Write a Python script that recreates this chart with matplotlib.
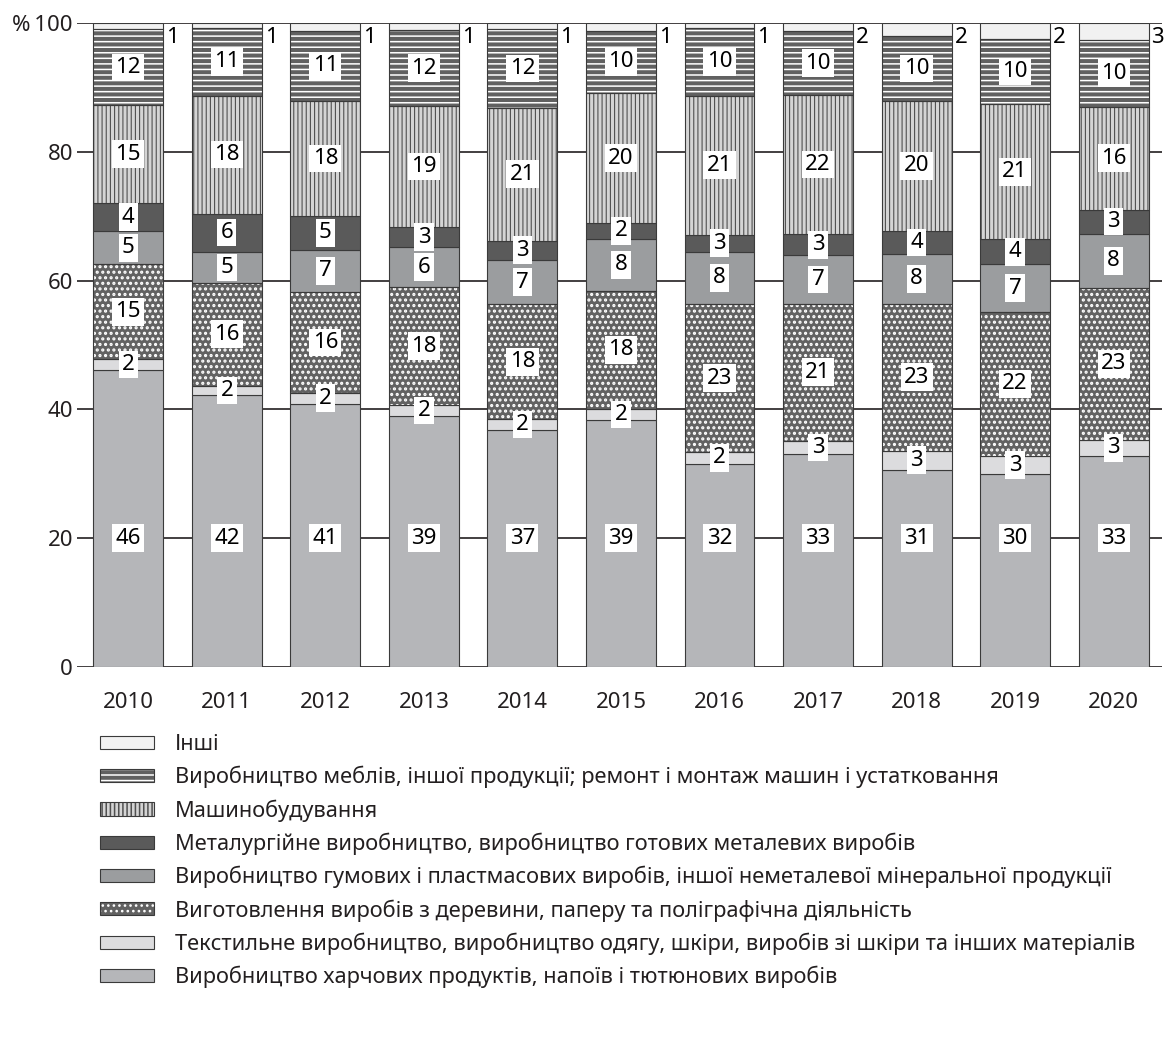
import matplotlib
matplotlib.use("Agg")
import matplotlib.pyplot as plt
from matplotlib.legend_handler import HandlerTuple

plt.rcParams['font.family'] = ['Noto Sans', 'DejaVu Sans']
plt.rcParams['hatch.linewidth'] = 1.0

FS = 16
LEGENDSIZE = 15.7

YEARS = ["2010", "2011", "2012", "2013", "2014", "2015",
         "2016", "2017", "2018", "2019", "2020"]

# shares, % (bottom to top)
food = [46.1, 42.2, 40.9, 39.0, 36.8, 38.3, 31.5, 33.0, 30.6, 29.9, 32.7]
textile = [1.7, 1.5, 1.7, 1.6, 1.7, 1.8, 1.9, 2.1, 3.0, 2.9, 2.6]
wood = [14.7, 15.9, 15.6, 18.4, 17.8, 18.3, 22.9, 21.3, 22.8, 22.3, 23.5]
rubber = [5.2, 4.9, 6.6, 6.2, 6.9, 8.1, 8.2, 7.5, 7.7, 7.4, 8.5]
metal = [4.3, 5.9, 5.2, 3.1, 3.0, 2.4, 2.6, 3.3, 3.6, 3.9, 3.7]
machine = [15.2, 18.3, 17.9, 18.8, 20.6, 20.2, 21.6, 21.6, 20.2, 21.0, 16.0]
furniture = [11.8, 10.5, 10.9, 11.8, 12.3, 9.7, 10.5, 9.9, 10.1, 10.1, 10.4]
other = [1.0, 0.8, 1.2, 1.1, 0.9, 1.2, 0.8, 1.3, 2.0, 2.5, 2.6]

# printed (rounded) values
food_lbl = [46, 42, 41, 39, 37, 39, 32, 33, 31, 30, 33]
textile_lbl = [2, 2, 2, 2, 2, 2, 2, 3, 3, 3, 3]
wood_lbl = [15, 16, 16, 18, 18, 18, 23, 21, 23, 22, 23]
rubber_lbl = [5, 5, 7, 6, 7, 8, 8, 7, 8, 7, 8]
metal_lbl = [4, 6, 5, 3, 3, 2, 3, 3, 4, 4, 3]
machine_lbl = [15, 18, 18, 19, 21, 20, 21, 22, 20, 21, 16]
furniture_lbl = [12, 11, 11, 12, 12, 10, 10, 10, 10, 10, 10]
other_lbl = [1, 1, 1, 1, 1, 1, 1, 2, 2, 2, 3]

NAMES = [
    "Виробництво харчових продуктів, напоїв і тютюнових виробів",
    "Текстильне виробництво, виробництво одягу, шкіри, виробів зі шкіри та інших матеріалів",
    "Виготовлення виробів з деревини, паперу та поліграфічна діяльність",
    "Виробництво гумових і пластмасових виробів, іншої неметалевої мінеральної продукції",
    "Металургійне виробництво, виробництво готових металевих виробів",
    "Машинобудування",
    "Виробництво меблів, іншої продукції; ремонт і монтаж машин і устатковання",
    "Інші",
]

# (values, labels, face, hatch, hatch colour, hatch width)
SERIES = [
    (food, food_lbl, "#b5b6b9", None, None, 0),
    (textile, textile_lbl, "#dcdcde", None, None, 0),
    (wood, wood_lbl, "#626262", "...", "white", 1.5),
    (rubber, rubber_lbl, "#9b9d9f", None, None, 0),
    (metal, metal_lbl, "#5a5a5a", None, None, 0),
    (machine, machine_lbl, "#d4d4d4", "||||", "#505050", 0.8),
    (furniture, furniture_lbl, "#616161", "---", "white", 1.1),
    (other, other_lbl, "#f1f1f1", None, None, 0),
]

EDGE = "#3a3a3a"
WIDTH = 0.71

fig = plt.figure(figsize=(11.64, 10.48), dpi=100)
ax = fig.add_axes([0.0662, 0.3636, 0.932, 0.6145])

x = list(range(len(YEARS)))
bottom = [0.0] * len(YEARS)
handles = []
for i, (vals, lbls, face, hatch, hcol, hlw) in enumerate(SERIES):
    if hatch:
        plt.rcParams['hatch.linewidth'] = hlw
        fill = ax.bar(x, vals, WIDTH, bottom=bottom, color=face, hatch=hatch,
                      edgecolor=hcol, linewidth=0, zorder=2)
        for p in fill:
            if hasattr(p, "set_hatch_linewidth"):
                p.set_hatch_linewidth(hlw)
        edge = ax.bar(x, vals, WIDTH, bottom=bottom, facecolor="none",
                      edgecolor=EDGE, linewidth=0.8, zorder=3)
        handles.append((fill[0], edge[0]))
    else:
        b = ax.bar(x, vals, WIDTH, bottom=bottom, color=face,
                   edgecolor=EDGE, linewidth=0.8, zorder=2)
        handles.append(b[0])

    for j in x:
        if i == 0:
            ax.text(j, 20, str(lbls[j]), ha="center", va="center", fontsize=FS,
                    zorder=5, bbox=dict(boxstyle="square,pad=0.15", fc="white", ec="none"))
        elif i == len(SERIES) - 1:
            ax.text(j + WIDTH / 2 + 0.03, 97.8, str(lbls[j]), ha="left", va="center",
                    fontsize=FS, zorder=5)
        else:
            ax.text(j, bottom[j] + vals[j] / 2, str(lbls[j]), ha="center", va="center",
                    fontsize=FS, zorder=5,
                    bbox=dict(boxstyle="square,pad=0.15", fc="white", ec="none"))
    bottom = [b0 + v for b0, v in zip(bottom, vals)]

ax.set_xlim(-0.52, 10.49)
ax.set_ylim(0, 100)
ax.set_xticks(x)
ax.set_xticklabels(YEARS)
ax.set_yticks(range(0, 101, 20))
ax.set_yticklabels(["0", "20", "40", "60", "80", "%\u2009100"])
ax.tick_params(axis="y", length=0, pad=3, labelsize=FS, colors="#231f20")
ax.tick_params(axis="x", length=0, pad=18, labelsize=FS, colors="#231f20")
for s in ax.spines.values():
    s.set_visible(False)
ax.yaxis.grid(True, color="#231f20", linewidth=1.2, zorder=0)
ax.set_axisbelow(True)

fig.legend(handles[::-1], NAMES[::-1], loc="upper left",
           bbox_to_anchor=(0.086, 0.2995), frameon=False, fontsize=LEGENDSIZE,
           handlelength=2.45, handleheight=0.55, handletextpad=1.0,
           labelspacing=0.5, borderpad=0, borderaxespad=0,
           labelcolor="#231f20",
           handler_map={tuple: HandlerTuple(ndivide=1, pad=0)})

fig.savefig("out.png", dpi=100)
